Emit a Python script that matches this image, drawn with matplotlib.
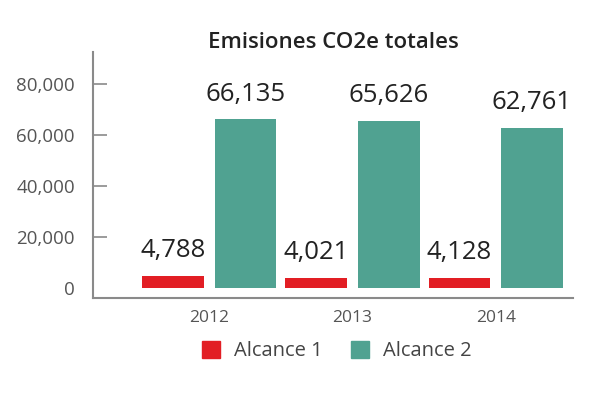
import numpy as np
import matplotlib
matplotlib.use("Agg")
import matplotlib.pyplot as plt
import matplotlib.patches as mpatches

plt.rcParams['font.family'] = ['Open Sans', 'DejaVu Sans']

years = ["2012", "2013", "2014"]
alcance_1 = [4788, 4021, 4128]
alcance_2 = [66135, 65626, 62761]
y_ticks = [0, 20000, 40000, 60000, 80000]
title = "Emisiones CO2e totales"

red = "#E21E24"
teal = "#50A291"
grey = "#8a8a8a"

fig = plt.figure(figsize=(5.99, 3.99), dpi=100)
ax = fig.add_axes([93 / 599, (399 - 298) / 399, (573 - 93) / 599, (298 - 52) / 399])

x = np.arange(len(years))
width = 0.43
offset = 0.2535
bars1 = ax.bar(x - offset, alcance_1, width, color=red)
bars2 = ax.bar(x + offset, alcance_2, width, color=teal)

for bars, vals in ((bars1, alcance_1), (bars2, alcance_2)):
    for b, v in zip(bars, vals):
        ax.annotate(f"{v:,}", (b.get_x() + b.get_width() / 2, b.get_height()),
                    xytext=(0, 9), textcoords="offset points", ha="center", va="bottom",
                    fontsize=18.5, fontweight="medium", color="#222222")

ax.set_xlim(-0.811, 2.54)
ax.set_ylim(-3900, 92500)

ax.set_yticks(y_ticks)
ax.set_yticklabels([f"{t:,}" for t in y_ticks])
ax.tick_params(axis="y", direction="in", length=10, width=1.2, color=grey,
               labelsize=13.5, labelcolor="#555555", pad=13)
ax.yaxis.get_major_ticks()[0].tick1line.set_visible(False)
for lbl in ax.get_yticklabels():
    lbl.set_fontweight("medium")

ax.set_xticks(x)
ax.set_xticklabels(years)
ax.tick_params(axis="x", length=0, labelsize=12.5, labelcolor="#555555", pad=9)
for lbl in ax.get_xticklabels():
    lbl.set_fontweight("medium")

for side in ("top", "right"):
    ax.spines[side].set_visible(False)
for side in ("left", "bottom"):
    ax.spines[side].set_color(grey)
    ax.spines[side].set_linewidth(1.5)

fig.text(333 / 599, (399 - 42) / 399, title, ha="center", va="center",
         fontsize=16, fontweight="semibold", color="#222222")

handles = [mpatches.Patch(color=red, label="Alcance 1"),
           mpatches.Patch(color=teal, label="Alcance 2")]
fig.legend(handles=handles, loc="center", bbox_to_anchor=(337 / 599, (399 - 351) / 399),
           ncol=2, frameon=False, fontsize=14.5, labelcolor="#444444",
           handlelength=0.9, handleheight=0.9, handletextpad=0.7, columnspacing=1.4)

fig.savefig("out.png", dpi=100)
